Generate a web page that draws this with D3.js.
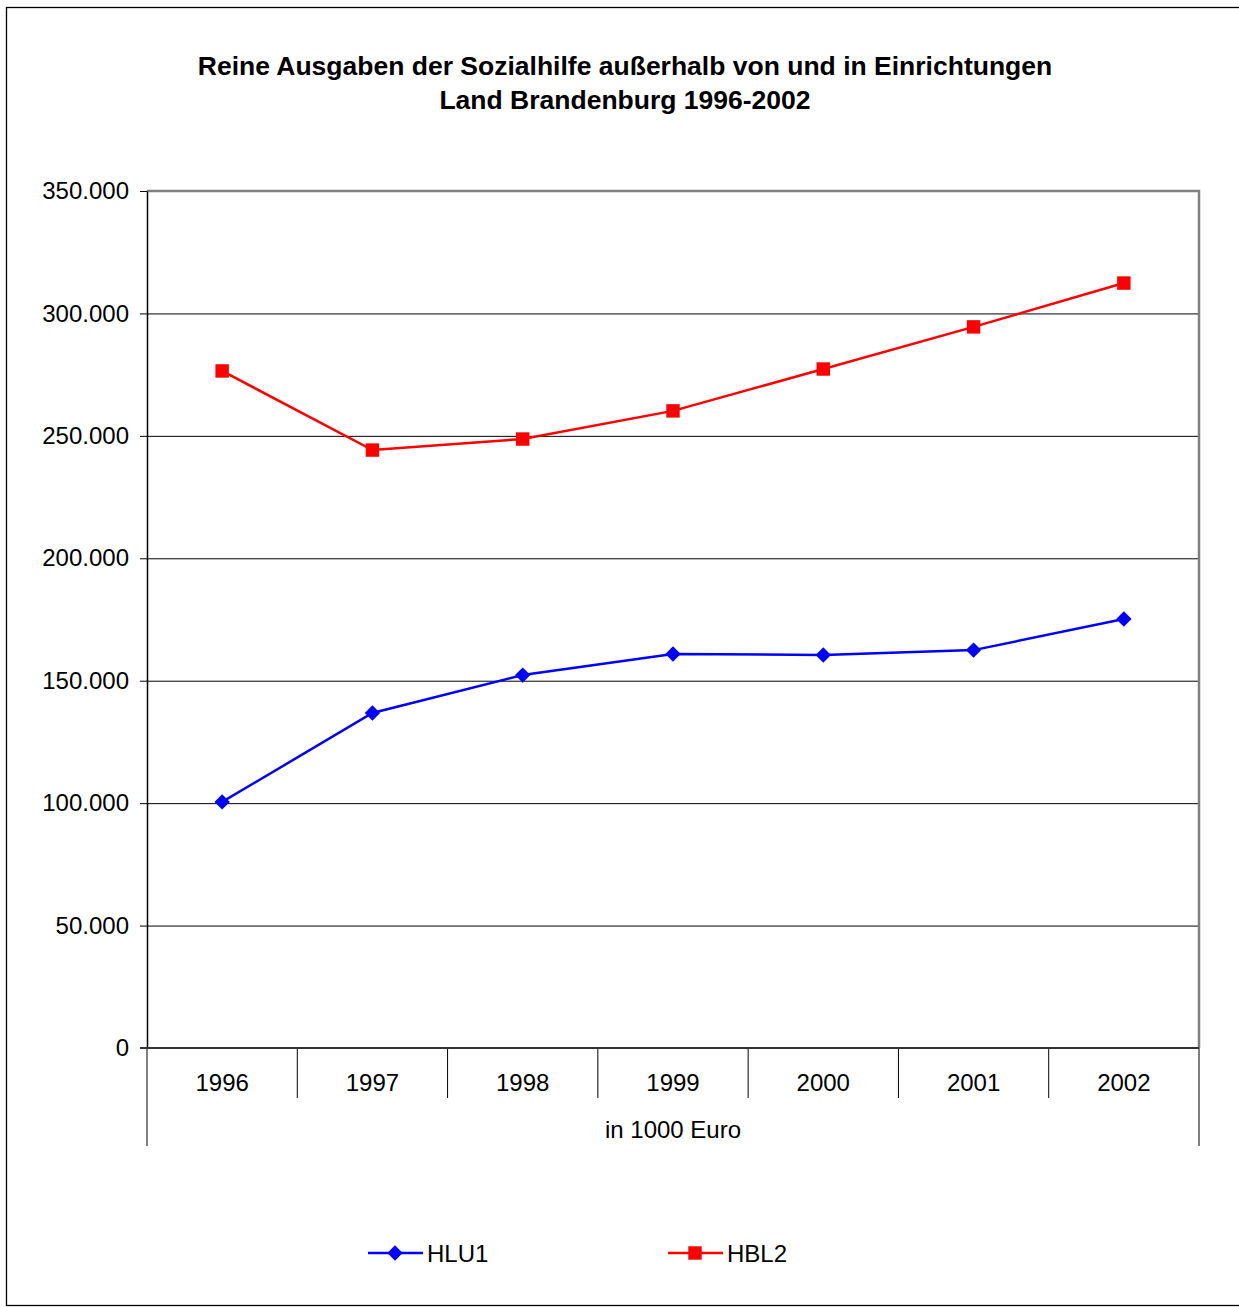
<!DOCTYPE html>
<html>
<head>
<meta charset="utf-8">
<script src="https://cdn.jsdelivr.net/npm/d3@7"></script>
<style>
  body { margin: 0; background: #fff; }
  text { font-family: Arial, "Liberation Sans", sans-serif; }
</style>
</head>
<body>
<svg id="chart"></svg>
<script>
// data
const years = ['1996', '1997', '1998', '1999', '2000', '2001', '2002']
const hlu1 = [100500, 136800, 152300, 160900, 160500, 162500, 175200]
const hbl2 = [276500, 244200, 248700, 260200, 277300, 294500, 312400]
const yTicks = [0, 50000, 100000, 150000, 200000, 250000, 300000, 350000]
const titleLines = ['Reine Ausgaben der Sozialhilfe außerhalb von und in Einrichtungen', 'Land Brandenburg 1996-2002']
const axisTitle = 'in 1000 Euro'

const W = 1239, H = 1307
const plot = { left: 147, right: 1199, top: 191, bottom: 1048 }

const svg = d3.select('#chart').attr('width', W).attr('height', H)

// outer frame
svg.append('rect')
  .attr('x', 6.5).attr('y', 7.5)
  .attr('width', W).attr('height', H - 9)
  .attr('fill', 'none').attr('stroke', '#000').attr('stroke-width', 1.3)

// title
svg.selectAll('.title').data(titleLines).enter().append('text')
  .attr('x', 625).attr('y', (d, i) => 75 + i * 34)
  .attr('text-anchor', 'middle')
  .attr('font-size', 26.5).attr('font-weight', 'bold')
  .text(d => d)

const x = d3.scaleBand().domain(years).range([plot.left, plot.right])
const y = d3.scaleLinear().domain([0, 350000]).range([plot.bottom, plot.top])

const fmt = d => d3.format(',')(d).replace(/,/g, '.')

// grid lines
svg.append('g').selectAll('line').data(yTicks.slice(1, -1)).enter().append('line')
  .attr('x1', plot.left).attr('x2', plot.right)
  .attr('y1', d => y(d) + 0.5).attr('y2', d => y(d) + 0.5)
  .attr('stroke', '#000').attr('stroke-width', 1)

// plot border top / right (grey)
svg.append('path')
  .attr('d', `M${plot.left},${plot.top}H${plot.right}V${plot.bottom}`)
  .attr('fill', 'none').attr('stroke', '#808080').attr('stroke-width', 2.5)

// y axis
const yAxis = svg.append('g')
  .attr('transform', `translate(${plot.left},0)`)
  .call(d3.axisLeft(y).tickValues(yTicks).tickFormat(fmt).tickSizeInner(7).tickSizeOuter(0))
yAxis.select('.domain').attr('stroke', '#000').attr('stroke-width', 1.5)
yAxis.selectAll('.tick line').attr('stroke', '#000')
yAxis.selectAll('.tick text').attr('font-size', 24).attr('fill', '#000').attr('x', -18)

// x axis: category dividers
const dividers = years.slice(1).map(d => x(d))
svg.append('g').selectAll('line').data(dividers).enter().append('line')
  .attr('x1', d => d).attr('x2', d => d)
  .attr('y1', plot.bottom).attr('y2', plot.bottom + 50)
  .attr('stroke', '#000').attr('stroke-width', 1)
svg.append('g').selectAll('line').data([plot.left, plot.right]).enter().append('line')
  .attr('x1', d => d).attr('x2', d => d)
  .attr('y1', plot.bottom).attr('y2', plot.bottom + 98)
  .attr('stroke', '#000').attr('stroke-width', 1)
svg.append('line')
  .attr('x1', plot.left - 7).attr('x2', plot.right)
  .attr('y1', plot.bottom).attr('y2', plot.bottom)
  .attr('stroke', '#333').attr('stroke-width', 2)
svg.append('g').selectAll('text').data(years).enter().append('text')
  .attr('x', d => x(d) + x.bandwidth() / 2).attr('y', plot.bottom + 43)
  .attr('text-anchor', 'middle').attr('font-size', 24)
  .text(d => d)
svg.append('text')
  .attr('x', (plot.left + plot.right) / 2).attr('y', plot.bottom + 90)
  .attr('text-anchor', 'middle').attr('font-size', 24)
  .text(axisTitle)

const cx = d => x(d) + x.bandwidth() / 2
const line = d3.line().x(d => cx(d[0])).y(d => y(d[1]))

const series = [
  { name: 'HLU1', values: hlu1, color: '#0000ff', symbol: d3.symbolDiamond2, size: 150 },
  { name: 'HBL2', values: hbl2, color: '#ff0000', symbol: d3.symbolSquare2, size: 230 }
]

series.forEach(s => {
  const pts = years.map((d, i) => [d, s.values[i]])
  svg.append('path').datum(pts)
    .attr('d', line).attr('fill', 'none')
    .attr('stroke', s.color).attr('stroke-width', 2.5)
  svg.append('g').selectAll('path').data(pts).enter().append('path')
    .attr('transform', d => `translate(${cx(d[0])},${y(d[1])})`)
    .attr('d', d3.symbol().type(s.symbol).size(s.size))
    .attr('fill', s.color)
})

// legend
const legendX = [368, 668]
series.forEach((s, i) => {
  const g = svg.append('g').attr('transform', `translate(${legendX[i]},1253)`)
  g.append('line').attr('x1', 0).attr('x2', 55)
    .attr('stroke', s.color).attr('stroke-width', 2.5)
  g.append('path').attr('transform', 'translate(27,0)')
    .attr('d', d3.symbol().type(s.symbol).size(s.size)).attr('fill', s.color)
  g.append('text').attr('x', 59).attr('y', 8.5).attr('font-size', 24).text(s.name)
})
</script>
</body>
</html>
